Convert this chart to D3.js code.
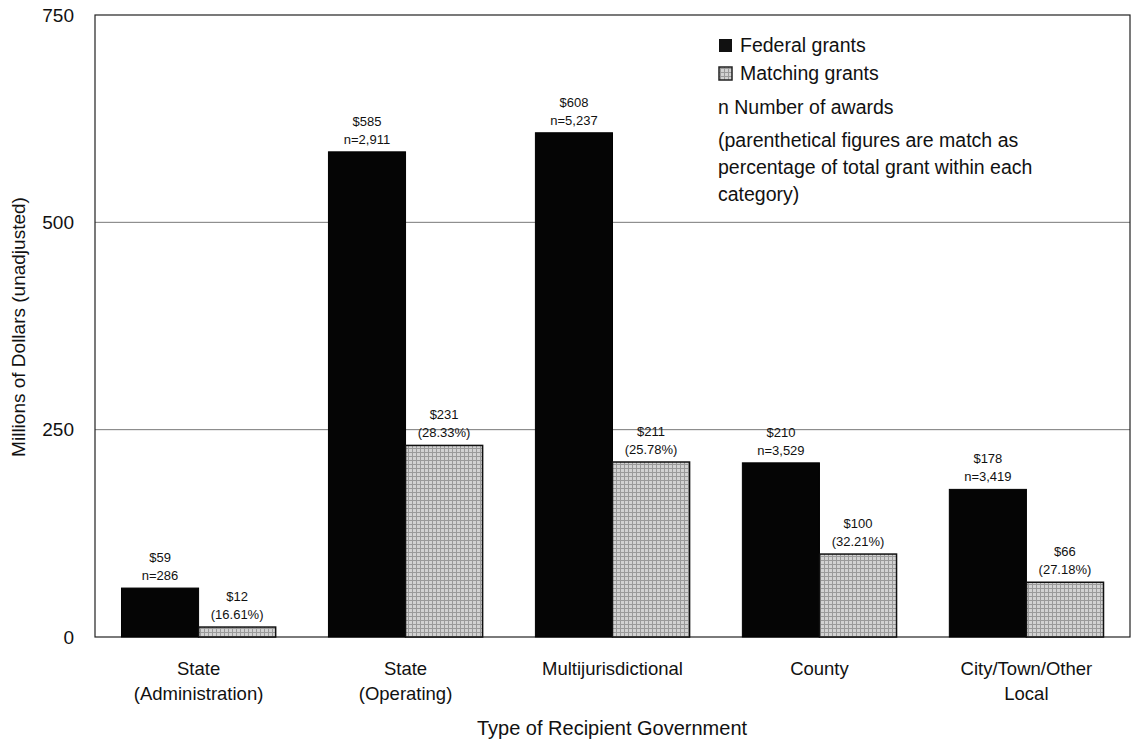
<!DOCTYPE html>
<html>
<head>
<meta charset="utf-8">
<script src="https://cdn.jsdelivr.net/npm/d3@7"></script>
<style>
  body { margin: 0; background: #fff; }
  svg { display: block; font-family: "Liberation Sans", Arial, sans-serif; }
</style>
</head>
<body>
<svg id="chart" width="1136" height="742"></svg>
<script>
// Grant amounts by recipient government type (millions of dollars)
const categories = [
  ["State", "(Administration)"],
  ["State", "(Operating)"],
  ["Multijurisdictional"],
  ["County"],
  ["City/Town/Other", "Local"]
];
const federal = [59, 585, 608, 210, 178];
const matching = [12, 231, 211, 100, 66];
const awards = ["286", "2,911", "5,237", "3,529", "3,419"];
const matchPct = ["16.61%", "28.33%", "25.78%", "32.21%", "27.18%"];
const yTicks = [0, 250, 500, 750];

const svg = d3.select("#chart");
const m = { left: 95, right: 1130, top: 15, bottom: 637 };

// Hatched fill for matching grants
const defs = svg.append("defs");
const pat = defs.append("pattern")
  .attr("id", "hatch").attr("patternUnits", "userSpaceOnUse")
  .attr("width", 4).attr("height", 4);
pat.append("rect").attr("width", 4).attr("height", 4).attr("fill", "#d2d2d2");
pat.append("path").attr("d", "M0,0.5H4M0.5,0V4")
  .attr("stroke", "#9a9a9a").attr("stroke-width", 1);

const x = d3.scaleBand().domain(d3.range(categories.length))
  .range([m.left, m.right]).paddingInner(0.255).paddingOuter(0.128);
const y = d3.scaleLinear().domain([0, 750]).range([m.bottom, m.top]);

// Gridlines
svg.append("g").selectAll("line").data(yTicks.filter(t => t > 0 && t < 750))
  .join("line")
  .attr("x1", m.left).attr("x2", m.right)
  .attr("y1", d => y(d)).attr("y2", d => y(d))
  .attr("stroke", "#555").attr("stroke-width", 0.8);

// Plot frame
svg.append("rect")
  .attr("x", m.left).attr("y", m.top)
  .attr("width", m.right - m.left).attr("height", m.bottom - m.top)
  .attr("fill", "none").attr("stroke", "#222").attr("stroke-width", 1.2);

// Y axis labels
const yAxis = d3.axisLeft(y).tickValues(yTicks).tickSize(0).tickPadding(21);
const gy = svg.append("g").attr("transform", `translate(${m.left},0)`).call(yAxis);
gy.select(".domain").remove();
gy.selectAll("text").attr("font-size", 19).attr("fill", "#111")
  .attr("font-family", "Liberation Sans, Arial, sans-serif");

const bw = x.bandwidth() / 2;

// Federal bars
svg.append("g").selectAll("rect").data(federal).join("rect")
  .attr("x", (d, i) => x(i)).attr("width", bw)
  .attr("y", d => y(d)).attr("height", d => y(0) - y(d))
  .attr("fill", "#050505").attr("stroke", "#000");

// Matching bars
svg.append("g").selectAll("rect").data(matching).join("rect")
  .attr("x", (d, i) => x(i) + bw).attr("width", bw)
  .attr("y", d => y(d)).attr("height", d => y(0) - y(d))
  .attr("fill", "url(#hatch)").attr("stroke", "#111").attr("stroke-width", 1.5);

// Value labels
const lab = svg.append("g").attr("font-size", 13).attr("fill", "#111")
  .attr("text-anchor", "middle");
federal.forEach((v, i) => {
  const cx = x(i) + bw / 2;
  lab.append("text").attr("x", cx).attr("y", y(v) - 26).text("$" + v);
  lab.append("text").attr("x", cx).attr("y", y(v) - 8).text("n=" + awards[i]);
});
matching.forEach((v, i) => {
  const cx = x(i) + bw * 1.5;
  lab.append("text").attr("x", cx).attr("y", y(v) - 26).text("$" + v);
  lab.append("text").attr("x", cx).attr("y", y(v) - 8).text("(" + matchPct[i] + ")");
});

// Category labels
const cat = svg.append("g").attr("font-size", 18.5).attr("fill", "#111")
  .attr("text-anchor", "middle");
categories.forEach((lines, i) => {
  lines.forEach((t, j) => {
    cat.append("text").attr("x", x(i) + x.bandwidth() / 2)
      .attr("y", 675 + j * 25).text(t);
  });
});

// Axis titles
svg.append("text").attr("x", 612).attr("y", 735).attr("text-anchor", "middle")
  .attr("font-size", 20).attr("fill", "#111").text("Type of Recipient Government");
svg.append("text").attr("transform", "translate(25,327) rotate(-90)")
  .attr("text-anchor", "middle").attr("font-size", 19).attr("fill", "#111")
  .text("Millions of Dollars (unadjusted)");

// Legend
const lg = svg.append("g").attr("font-size", 19.5).attr("fill", "#111");
lg.append("rect").attr("x", 719).attr("y", 39).attr("width", 13).attr("height", 13)
  .attr("fill", "#111");
lg.append("text").attr("x", 740).attr("y", 52).text("Federal grants");
lg.append("rect").attr("x", 719).attr("y", 67).attr("width", 13).attr("height", 13)
  .attr("fill", "url(#hatch)").attr("stroke", "#222").attr("stroke-width", 1.5);
lg.append("text").attr("x", 740).attr("y", 80).text("Matching grants");
lg.append("text").attr("x", 718).attr("y", 114).text("n Number of awards");
["(parenthetical figures are match as",
 "percentage of total grant within each",
 "category)"].forEach((t, j) => {
  lg.append("text").attr("x", 718).attr("y", 147 + j * 27).text(t);
});
</script>
</body>
</html>
